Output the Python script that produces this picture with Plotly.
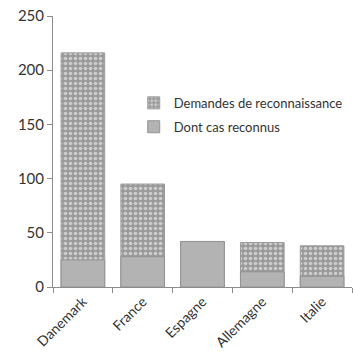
import plotly.graph_objects as go

pays = ["Danemark", "France", "Espagne", "Allemagne", "Italie"]
demandes = [216, 95, 42, 41, 38]
reconnus = [25, 28, 42, 14, 10]
y_ticks = [0, 50, 100, 150, 200, 250]

font_family = "Lato, 'Open Sans', sans-serif"
txt = "#333333"

fig = go.Figure()
fig.add_trace(go.Bar(
    x=pays, y=demandes, name="Demandes de reconnaissance",
    legendgroup="dem",
    marker=dict(
        color="#9a9a9a",
        line=dict(color="#9a9a9a", width=1),
        pattern=dict(shape=".", fgcolor="#ffffff", bgcolor="#9a9a9a",
                     size=5, solidity=0.42, fillmode="overlay"),
    ),
))
fig.add_trace(go.Bar(
    x=pays, y=reconnus, name="Dont cas reconnus",
    legendgroup="rec",
    marker=dict(color="#b3b3b3", line=dict(color="#929292", width=1)),
))

fig.update_layout(
    width=353, height=362,
    margin=dict(l=53, r=1, t=16, b=75),
    barmode="overlay", bargap=0.27,
    plot_bgcolor="white", paper_bgcolor="white",
    font=dict(family=font_family, color=txt, size=13),
    showlegend=True,
    legend=dict(x=0.27, y=0.635, xanchor="left", yanchor="middle",
                font=dict(size=13, color=txt), itemwidth=30,
                tracegroupgap=4, bgcolor="rgba(0,0,0,0)"),
)
fig.update_xaxes(
    showline=True, linecolor="#8c8c8c", linewidth=1,
    ticks="outside", ticklen=5, tickcolor="#8c8c8c",
    tickson="boundaries", tickangle=-45,
    tickfont=dict(size=14, color=txt), showgrid=False,
)
fig.update_yaxes(
    range=[0, 250], tickvals=y_ticks,
    showline=True, linecolor="#8c8c8c", linewidth=1,
    ticks="outside", ticklen=5, tickcolor="#8c8c8c",
    tickfont=dict(size=15, color=txt), showgrid=False, zeroline=False,
)

fig.write_html("out.html")
